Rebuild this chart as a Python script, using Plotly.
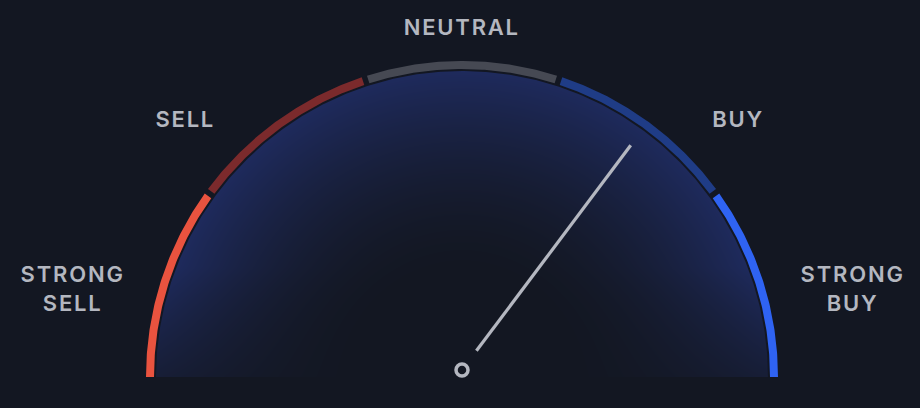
import numpy as np
import plotly.graph_objects as go

# ---- data ----
zone_labels = ["STRONG<br>SELL", "SELL", "NEUTRAL", "BUY", "STRONG<br>BUY"]
zone_colors = ["#e9533f", "#7b2a2c", "#464953", "#1f3c86", "#2f63f2"]
needle_value = 0.41          # on a -1 (strong sell) .. +1 (strong buy) scale
value_min, value_max = -1.0, 1.0

# ---- layout constants (pixels) ----
W, H = 920, 408
BG = "#131722"
TXT = "#b4b7c0"
CX, CY = 462.0, 377.0        # gauge centre
R_OUT, R_IN = 316.0, 308.0   # ring radii
R_FILL = 306.0               # inner gradient disc
GAP_DEG = 1.0
PIV_X, PIV_Y = 462.0, 370.0  # needle pivot
NEEDLE_R0, NEEDLE_R1 = 24.0, 281.0
label_pos = [(72, 288), (185, 119), (462, 27), (738, 119), (852, 288)]


def pt(cx, cy, r, deg):
    a = np.radians(deg)
    return cx + r * np.cos(a), cy - r * np.sin(a)


fig = go.Figure()

# gradient fill (decorative)
xs = np.arange(CX - R_FILL - 4, CX + R_FILL + 5, 2.0)
ys = np.arange(CY - R_FILL - 4, CY, 2.0) + 1.0
XX, YY = np.meshgrid(xs, ys)
rr = np.hypot(XX - CX, YY - CY) / R_FILL
t = np.clip((rr - 0.35) / 0.65, 0, 1) ** 1.6
fade = np.clip((CY - YY) / 110.0, 0, 1)
t = t * (0.35 + 0.65 * fade)
fig.add_trace(go.Heatmap(x=xs, y=ys, z=t, zmin=0, zmax=1, zsmooth="best",
                         colorscale=[[0, BG], [1, "#1e2a5c"]], showscale=False,
                         hoverinfo="skip"))

# mask outside the disc
angs = np.linspace(180, 0, 361)
mx = [xs[0] - 2, CX - R_FILL] + [pt(CX, CY, R_FILL, a)[0] for a in angs] + [CX + R_FILL, xs[-1] + 2, xs[-1] + 2, xs[0] - 2, xs[0] - 2]
my = [CY + 0.5, CY + 0.5] + [pt(CX, CY, R_FILL, a)[1] for a in angs] + [CY + 0.5, CY + 0.5, ys[0] - 3, ys[0] - 3, CY + 0.5]
fig.add_trace(go.Scatter(x=mx, y=my, fill="toself", fillcolor=BG, mode="lines",
                         line=dict(width=0, color=BG), hoverinfo="skip"))

# ring segments
n = len(zone_colors)
span = 180.0 / n
for i, col in enumerate(zone_colors):
    a0 = 180 - i * span - (GAP_DEG / 2 if i > 0 else 0)
    a1 = 180 - (i + 1) * span + (GAP_DEG / 2 if i < n - 1 else 0)
    aa = np.linspace(a0, a1, 80)
    ox, oy = zip(*[pt(CX, CY, R_OUT, a) for a in aa])
    ix, iy = zip(*[pt(CX, CY, R_IN, a) for a in aa[::-1]])
    px = list(ox) + list(ix) + [ox[0]]
    py = list(oy) + list(iy) + [oy[0]]
    fig.add_trace(go.Scatter(x=px, y=py, fill="toself", fillcolor=col, mode="lines",
                             line=dict(width=0, color=col), hoverinfo="skip"))

# needle
ang = 180.0 - (needle_value - value_min) / (value_max - value_min) * 180.0
x0, y0 = pt(PIV_X, PIV_Y, NEEDLE_R0, ang)
x1, y1 = pt(PIV_X, PIV_Y, NEEDLE_R1, ang)
fig.add_trace(go.Scatter(x=[x0, x1], y=[y0, y1], mode="lines",
                         line=dict(color=TXT, width=3.2), hoverinfo="skip"))
fig.add_trace(go.Scatter(x=[PIV_X], y=[PIV_Y], mode="markers",
                         marker=dict(symbol="circle-open", size=12, color=TXT,
                                     line=dict(width=3.5, color=TXT)),
                         hoverinfo="skip"))

for lab, (lx, ly) in zip(zone_labels, label_pos):
    fig.add_annotation(x=lx, y=ly, xref="x", yref="y", text=lab, showarrow=False,
                       xanchor="center", yanchor="middle", align="center",
                       font=dict(family="Inter", size=22, color=TXT, weight=600))

fig.update_layout(width=W, height=H, margin=dict(l=0, r=0, t=0, b=0),
                  paper_bgcolor=BG, plot_bgcolor=BG, showlegend=False,
                  xaxis=dict(range=[0, W], visible=False, fixedrange=True),
                  yaxis=dict(range=[H, 0], visible=False, fixedrange=True))

post = ("document.querySelectorAll('text.annotation-text').forEach(function(t){"
        "t.style.letterSpacing='1.8px';});")
fig.write_html("out.html", config={"displayModeBar": False}, post_script=post)
